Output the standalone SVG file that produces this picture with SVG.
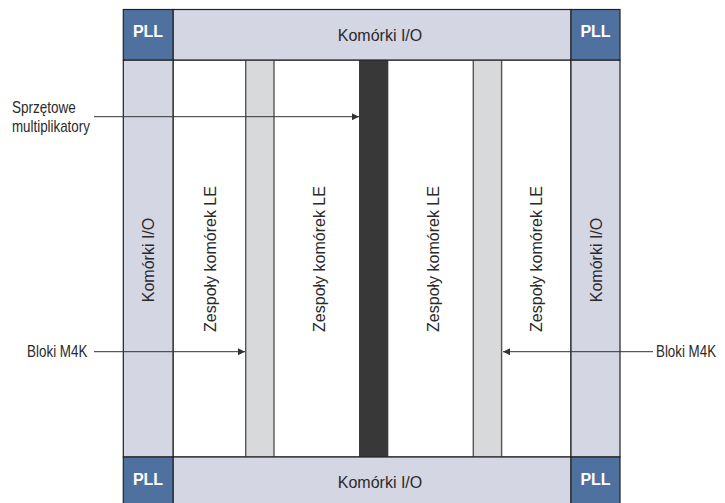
<svg xmlns="http://www.w3.org/2000/svg" width="725" height="503" viewBox="0 0 725 503">
  <defs>
    <style>
      .io { fill: #d4d6e4; stroke: #222; stroke-width: 1.2; }
      .pll { fill: #4f71a0; stroke: #222; stroke-width: 1.2; }
      .area { fill: #ffffff; stroke: #222; stroke-width: 1.2; }
      .m4k { fill: #d8d9db; stroke: #555; stroke-width: 1.4; }
      .mult { fill: #383838; stroke: none; }
      .lbl { font-family: "Liberation Sans", Arial, sans-serif; font-size: 16px; fill: #2a2a2a; }
      .pll-t { font-family: "Liberation Sans", Arial, sans-serif; font-size: 16px; font-weight: bold; fill: #ffffff; text-anchor: middle; }
      .mid { text-anchor: middle; }
      .conn { stroke: #333; stroke-width: 1; fill: none; marker-end: url(#arr); }
    </style>
    <marker id="arr" viewBox="0 0 10 10" refX="10" refY="5" markerWidth="9" markerHeight="7" markerUnits="userSpaceOnUse" orient="auto">
      <path d="M0,0 L10,5 L0,10 z" fill="#333"/>
    </marker>
  </defs>

  <!-- logic array area -->
  <g id="core">
    <rect class="area" x="173" y="60" width="398" height="397"/>
  </g>

  <!-- LE array columns -->
  <g id="le-1"><text class="lbl mid" transform="translate(215.5,259) rotate(-90)">Zespoły komórek LE</text></g>
  <g id="le-2"><text class="lbl mid" transform="translate(324.5,259) rotate(-90)">Zespoły komórek LE</text></g>
  <g id="le-3"><text class="lbl mid" transform="translate(438.5,259) rotate(-90)">Zespoły komórek LE</text></g>
  <g id="le-4"><text class="lbl mid" transform="translate(542,259) rotate(-90)">Zespoły komórek LE</text></g>

  <!-- memory and multiplier columns -->
  <g id="m4k-left"><rect class="m4k" x="245.7" y="60" width="28.3" height="397"/></g>
  <g id="m4k-right"><rect class="m4k" x="473.3" y="60" width="28.3" height="397"/></g>
  <g id="multipliers"><rect class="mult" x="359" y="60" width="29.3" height="397"/></g>

  <!-- I/O cell bands -->
  <g id="io-top">
    <rect class="io" x="173" y="9.5" width="398" height="50.5"/>
    <text class="lbl mid" x="380" y="41">Komórki I/O</text>
  </g>
  <g id="io-bottom">
    <rect class="io" x="173" y="457" width="398" height="50"/>
    <text class="lbl mid" x="380" y="488">Komórki I/O</text>
  </g>
  <g id="io-left">
    <rect class="io" x="123.3" y="60" width="49.7" height="397"/>
    <text class="lbl mid" transform="translate(154,260) rotate(-90)">Komórki I/O</text>
  </g>
  <g id="io-right">
    <rect class="io" x="571" y="60" width="49" height="397"/>
    <text class="lbl mid" transform="translate(601.5,260) rotate(-90)">Komórki I/O</text>
  </g>

  <!-- PLL corners -->
  <g id="pll-tl">
    <rect class="pll" x="123.3" y="9.5" width="49.7" height="50.5"/>
    <text class="pll-t" x="148" y="37">PLL</text>
  </g>
  <g id="pll-tr">
    <rect class="pll" x="571" y="9.5" width="49" height="50.5"/>
    <text class="pll-t" x="595.5" y="37">PLL</text>
  </g>
  <g id="pll-bl">
    <rect class="pll" x="123.3" y="457" width="49.7" height="50"/>
    <text class="pll-t" x="148" y="485">PLL</text>
  </g>
  <g id="pll-br">
    <rect class="pll" x="571" y="457" width="49" height="50"/>
    <text class="pll-t" x="595.5" y="485">PLL</text>
  </g>

  <!-- callout labels (condensed type) -->
  <g id="label-mult">
    <text class="lbl" transform="translate(12,113) scale(0.845,1)">Sprzętowe</text>
    <text class="lbl" transform="translate(12,131.5) scale(0.835,1)">multiplikatory</text>
  </g>
  <g id="label-m4k-left">
    <text class="lbl" transform="translate(27,356.5) scale(0.84,1)">Bloki M4K</text>
  </g>
  <g id="label-m4k-right">
    <text class="lbl" transform="translate(656,356.5) scale(0.835,1)">Bloki M4K</text>
  </g>

  <!-- connectors -->
  <g id="connectors">
    <line class="conn" x1="94" y1="116.7" x2="359" y2="116.7"/>
    <line class="conn" x1="94" y1="351.7" x2="245" y2="351.7"/>
    <line class="conn" x1="653" y1="351.7" x2="503" y2="351.7"/>
  </g>
</svg>
